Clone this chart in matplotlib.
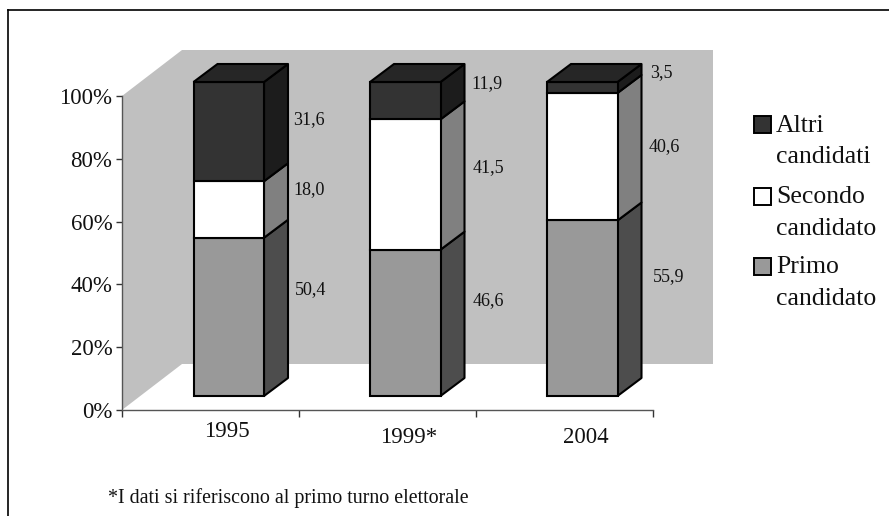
import matplotlib
matplotlib.use('Agg')
import matplotlib.pyplot as plt
from matplotlib.patches import Polygon, Rectangle
from matplotlib.lines import Line2D
from matplotlib.transforms import Affine2D

W, H = 889, 516

years = ['1995', '1999*', '2004']
primo = [50.4, 46.6, 55.9]
secondo = [18.0, 41.5, 40.6]
altri = [31.6, 11.9, 3.5]
series_names = ['Primo', 'Secondo', 'Altri']
legend_labels = [['Altri', 'candidati'], ['Secondo', 'candidato'], ['Primo', 'candidato']]
footnote = '*I dati si riferiscono al primo turno elettorale'

# face colours front, side, top
colors = {'Primo': ('#999999', '#4d4d4d', '#808080'),
          'Secondo': ('#ffffff', '#808080', '#c0c0c0'),
          'Altri': ('#333333', '#1c1c1c', '#262626')}

plt.rcParams['font.family'] = ['Liberation Serif', 'DejaVu Serif']

fig = plt.figure(figsize=(W / 100, H / 100), dpi=100)
ax = fig.add_axes([122 / W, 1 - 410 / H, 531 / W, 314 / H])
ax.set_xlim(0, 3)
ax.set_ylim(0, 100)
ax.patch.set_visible(False)

# pixel transform with y going down, handy for the text and the legend
px = Affine2D().scale(1, -1).translate(0, H)

xu = 177.0   # px per category
yu = 3.14    # px per percent


def wall(points, color):
    ax.add_patch(Polygon(points, closed=True, fc=color, ec='none', clip_on=False, zorder=1))


# back wall and left wall
dx_w, dy_w = 60 / xu, 46 / yu
wall([(dx_w, dy_w), (3 + dx_w, dy_w), (3 + dx_w, 100 + dy_w), (dx_w, 100 + dy_w)], '#c0c0c0')
wall([(0, 0), (dx_w, dy_w), (dx_w, 100 + dy_w), (0, 100)], '#c0c0c0')

# bars
bar_left = [71.5 / xu, 248 / xu, 425 / xu]
bar_w = 70.5 / xu
dx, dy = 24 / xu, 18 / yu
base = 14 / yu
stacks = {'Primo': primo, 'Secondo': secondo, 'Altri': altri}

for i in range(len(years)):
    x0 = bar_left[i]
    x1 = x0 + bar_w
    y = base
    for name in series_names:
        v = stacks[name][i]
        front, side, top = colors[name]
        ax.add_patch(Polygon([(x1, y), (x1 + dx, y + dy), (x1 + dx, y + v + dy), (x1, y + v)],
                             fc=side, ec='black', lw=1.5, joinstyle='round', clip_on=False, zorder=3))
        ax.add_patch(Rectangle((x0, y), bar_w, v, fc=front, ec='black', lw=1.5,
                               clip_on=False, zorder=4))
        y += v
    ax.add_patch(Polygon([(x0, y), (x1, y), (x1 + dx, y + dy), (x0 + dx, y + dy)],
                         fc=colors['Altri'][2], ec='black', lw=1.5, clip_on=False, zorder=4))

# value labels, placed by hand like in the original
label_xy = [[(311, 290), (309, 190), (309, 120)],
            [(488, 301), (488, 168), (487, 84)],
            [(669, 277), (664, 147), (661, 73)]]
for i in range(len(years)):
    for j, name in enumerate(series_names):
        txt = ('%.1f' % stacks[name][i]).replace('.', ',')
        ax.text(label_xy[i][j][0], label_xy[i][j][1], txt, transform=px, fontsize=13,
                ha='center', va='center', color='#111111', clip_on=False, zorder=5)

# axes
for s in ['top', 'right']:
    ax.spines[s].set_visible(False)
for s in ['left', 'bottom']:
    ax.spines[s].set_color('#555555')
    ax.spines[s].set_linewidth(1)
    ax.spines[s].set_zorder(6)
ax.set_yticks([0, 20, 40, 60, 80, 100])
ax.set_yticklabels(['0%', '20%', '40%', '60%', '80%', '100%'], fontsize=16.5, color='#111111')
ax.tick_params(axis='y', length=4.5, width=1, color='#333333', pad=2.5)
ax.set_xticks([0, 1, 2, 3])
ax.set_xticklabels([])
ax.tick_params(axis='x', which='major', length=5, width=1, color='#333333')
ax.set_xticks([105 / xu, 287 / xu, 464 / xu], minor=True)
ax.set_xticklabels(years, minor=True, fontsize=16.5, color='#111111')
ax.tick_params(axis='x', which='minor', length=0)
for tick, p in zip(ax.xaxis.get_minor_ticks(), [8, 12, 12]):
    tick.set_pad(p)

# legend
sq_y = [116, 188, 258]
sq_colors = ['#333333', '#ffffff', '#999999']
line_y = [(132, 163), (203, 235), (273, 305)]
for k in range(3):
    fig.add_artist(Rectangle((754, sq_y[k] + 17), 17, -17, transform=px, fc=sq_colors[k],
                             ec='black', lw=1.4))
    for t, yy in zip(legend_labels[k], line_y[k]):
        fig.text(776, yy, t, transform=px, fontsize=18.5, va='baseline', ha='left', color='#111111')

fig.text(108, 503, footnote, transform=px, fontsize=14.4, va='baseline', ha='left', color='#111111')

# outer frame, open at the bottom and right since the picture is cut there
for xs, ys in [((8, 8), (516, 10)), ((8, 889), (10, 10))]:
    fig.add_artist(Line2D(xs, ys, transform=px, color='black', lw=1.2))

fig.savefig('out.png', dpi=100)
